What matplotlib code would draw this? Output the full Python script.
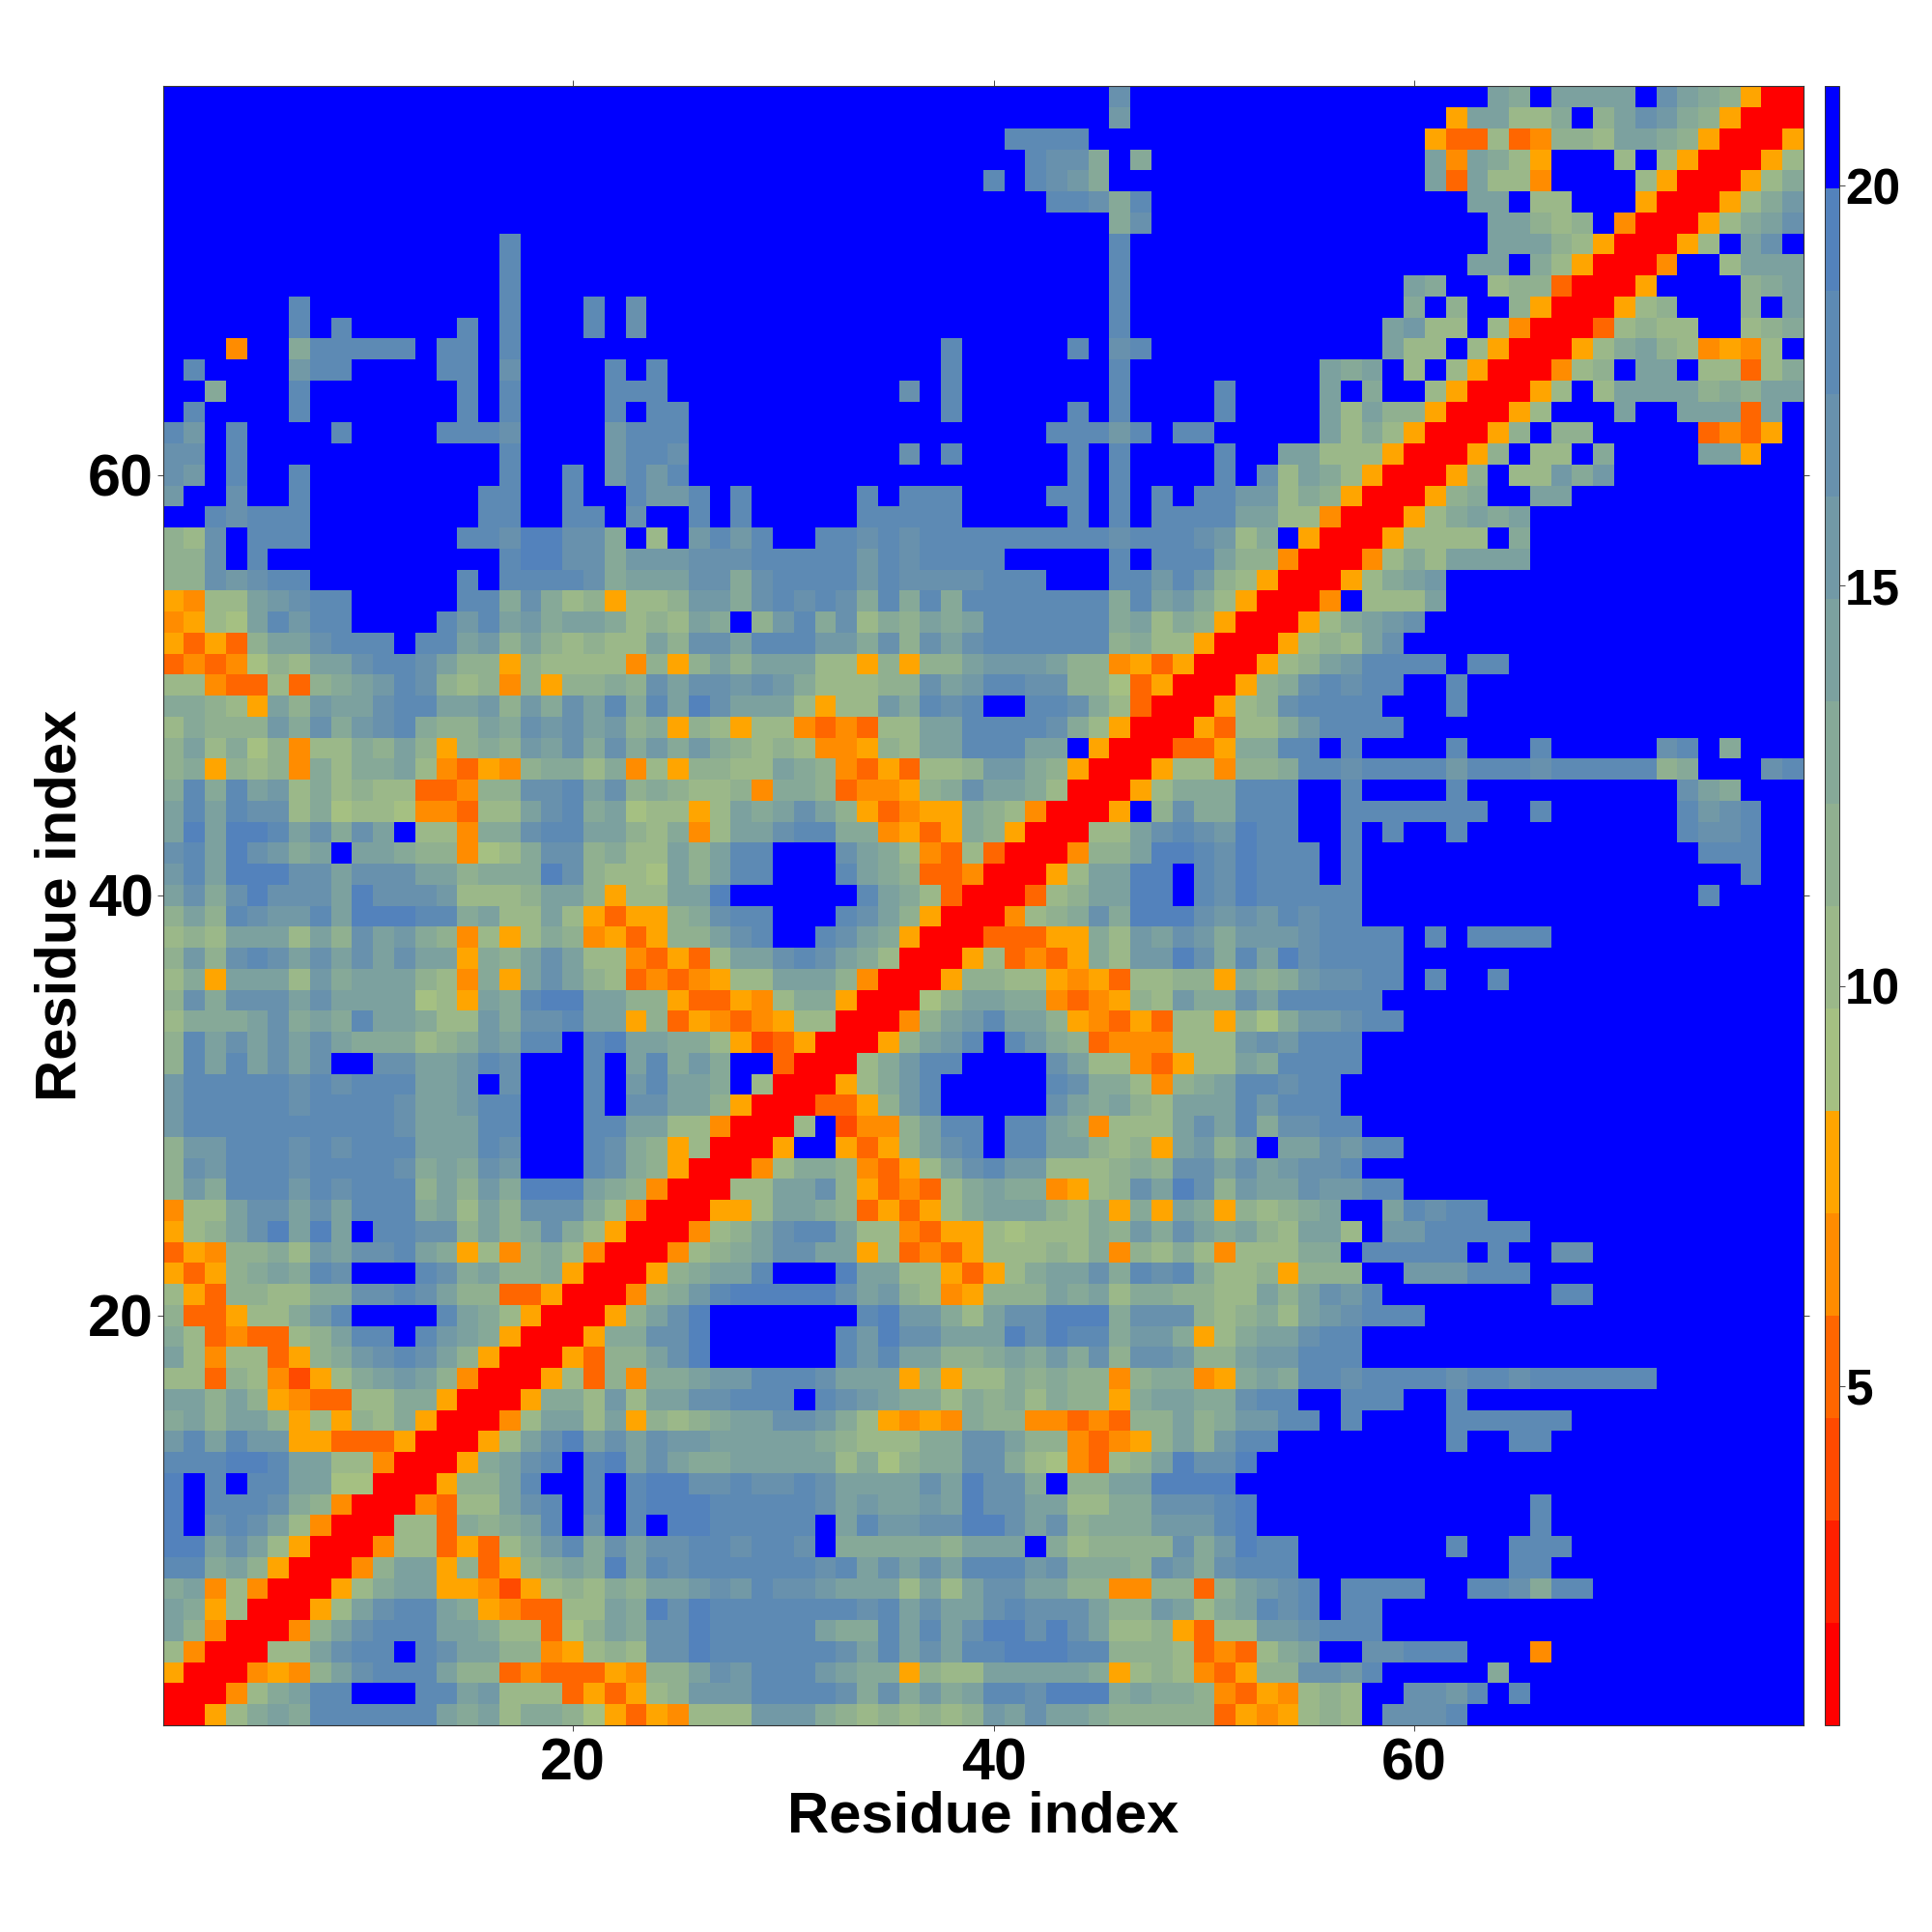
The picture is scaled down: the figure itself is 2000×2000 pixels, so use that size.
import matplotlib
matplotlib.use("Agg")
import matplotlib.pyplot as plt
import numpy as np
from matplotlib.colors import ListedColormap, BoundaryNorm

# Cell classes, rows listed from residue 78 (top) to residue 1 (bottom)
cols_01_26 = [
".."*13,".."*13,".."*13,".."*13,".."*13,".."*13,".."*13,
"................h.........","................h.........","................h.........",
"......h.........h...h.g...",
"......h.h.....h.h...h.g...",
"...M..dhhhhh.hh.h.........",
".h....fhh....hh.g....h.h..",
"..d...h.......h.h....hhh..",
".h....h.......h.h....h.hh.",
"hf.h....h....hhhg....fhhh.",
"gg.h............h....fhhg.",
"gf.h..h.........h..h.fhfh.",
"f..g..h........hh..h..hffh",
"..hghhh........hh..hh.g..h",
"cbg.hhh.......hhgiiggd.b.f",
"ccg.h...........hiiggdfffg",
"ccgfghh.......h.hhhhgdeeeg",
"YMbbefghh.....hhdgdbcYbbcf",
"MYbaehfhh....hfhefdeedbcbe",
"YOYOceeghhh.hhefcecbcbbecg",
"OMOMacbeeghhgeccYcbbbbMcYc",
"bbMOObOcdefhgcbcMcYccdcgeg",
"ddcbYecfeeghheefcfdgehdhei",
"bdcccfdgdfghdccedgfgefcdYc",
"cebdacMbbdcecYcdcfegdgdfdf",
"cdYcbcMdbddebMOYMcddbdMbYc",
"dhdhefbdbcbbOOMccgghegcdcb",
"ehehggbdabbaMMObbeghdeabbY",
"eieiihegdge.bbMddghheecbdM",
"gheigfde.eedccMabdggcdbbec",
"fheiiiggegggeecdddigcbbaec",
"egdgigggeigggfbbbceecYbbee",
"cechgffheiiihhdebbebYOYYcd",
"bcbeeebecgefdcMbYbdcMYOYcc",
"cfcghgegegegeeYdcegebbMOYO",
"bdYeeebfdeeecbMdYegecbOMOM",
"cgdgggegeeeeabYedhiieeccYO",
"bdddegdedheedbbfdggheeYcOY",
"chegegegedddbcdfehh.hieedd",
"chehegeg..ggeefhg...h.ehdf",
"fhhhhhghghhheef.g...h.fhee",
"fhhhhhghhhhgeefhh...h.ggee",
"fhhhhhhhhhhgeeehh...hheebb",
"cffhhhghghhheeehg...hgdcYb",
"cgfhhhghhhhgdedgf...hgdcYR",
"cfdhhhfhghhhcecfdiiiedcMRR",
"MbbeggegehhhdebecgggdbMRRR",
"Ybcegieie.hhggcecdgdbYRRRM",
"OYMccdbfegghedYbMcdbMRRRMb",
"YOYcdedhg...hgdeccdYRRRYcd",
"bYOccbbddgghgeccOOYRRRMcdf",
"cOOYbbdfh....hedbYRRRYcegi",
"dbOMOObcehh.hfedYRRRYddggi",
"ebMbbOYcdfghgecYRRRYOccegi",
"bbOcbMXYbdefecMRRRYbOcMdde",
"eececYMOObbddYRRRYddbfbeeg",
"deceecYbYcbdYRRRMbeebeYcbc",
"fhehffYYOOOYRRRYbegiegegff",
"hhhiiheebbMRRRYdegh.hieged",
"i.h.hheeaaRRRYcceh..h.hiig",
"i.hhhgdcMRRRMObbegh.h.hiii",
"i.ghgebMRRRbbOdcdeh.g.h.ii",
"iiegebYRRRMbbOYObdfhdgeggh",
"hhdecYRRRMceeYcOYcdediehgh",
"deMbMRRRYbdeeYYMXYbcbdceef",
"edYbRRRYbeghhedYMOObbedigi",
"ecMRRRMceghhheedbbOacedggi",
"bMRRRbbeghh.hgeeccMYbcbggi",
"YRRRMYMceghhheccOMOOOYMcce",
"RRRMbdehh...hhefbbbOYOYbcf",
"RRYbdedhhhhhhedebddcaYOYMb",
]
cols_27_52 = [
"...................g......",
"...................f......",
"..............hhhh........",
"...............hggd.d.....",
".............h.hgfd.......",
"................hhgdh.....",
"...................dg.....",
"...................h......","...................h......","...................h......",
"...................h......","...................h......",
"...........h.....h.gh.....",
"...........h.......h......",
".........g.h.......h....h.",
"...........h.....h.h....h.",
"................hhhfh.hh..",
".........g.h.....h.h....h.",
".................h.h....h.",
".h.....h.hhh....hh.h.h.hhf",
".h.....hhhhh.....h.h.hhhhe",
"hfh..hhghghhhhhhhhhghhhgfb",
"gghhhhhfhghhhh.....h.hhhec",
"gdghhhhfhgggghhh...hhfhfcb",
"fdghghgdhdhdhhhhhhhdhefdbY",
"d.cfhdgbdcedehhhhhhdebdcYR",
"gehhhffdgcgeghhhhhhcdbbYRR",
"eceeebbYcYccefffeccMYOYRRR",
"gfgfdbbbccgefhhggccaOYRRRY",
"geeebYbbfdhgh..hhgdbORRRYb",
"bYbbMOMObbeehhhhgdbYRRRYOb",
"dcbcbMMYcbeehhhee.YRRROOYd",
"cbbedcMOYObbcffdcYRRRYbbMc",
"bcMddcOMMYcdgeedbRRRYbdddh",
"bedegecYOMYYdcbMRRRY.cgddh",
"beeghhddMYOYdcYRRRbbeghgfi",
"ehh...gedbMObORRRMcceiihgi",
"ehh...hedcOOMRRRYbeeii.hgi",
"i......hedbORRRObceeii.hgi",
"ghh...hgecYRRRMbcdgdiiigfg",
"egh..hgedYRRROOOYYdbfegfdf",
"beeghgedbRRRYbOMOYdbffigdh",
"YbbeeecMRRRYccbbYMYObbccYd",
"OYMbddYRRRaceeddMOMYcbfddg",
"MOMYbbRRRMcefheecYMOYObbYc",
"bYXOYRRRYcefh.hfdcOMMMbbbf",
"d..ORRRbdfhh....gebbMOYbbe",
"d.bRRRYbdfh.....hgddbMcdeh",
"cYRRROOYcfh.....gedecbeeeh",
"MRRRb.XMMcehh.hhedMbbbegeh",
"RRRY..YOYcegh.hheecbcYefce",
"RRMbddcMOYbeghffbbbcdcggeg",
"RbbeegcYOMObdeddMYbcgeigcf",
"YYbeedcOYOYbdeeecbdYdYedYc",
"bceghhebbMOYYbabbbdcfdgede",
"cdeggeeYbOMOYbbbcbdMcbdbMb",
"eeh...ieebbYOYbdeegdhghdbb",
"hiiiiigefcbMYcccedebddccbb",
".......hiffdbeggiiidgggcbc",
"......hfiggeeeigihhdffdYbd",
"......hfheeccdedfdgcggfcce",
"ffhhhgeeeYcYbbdcdccMcddMYd",
"ghhh.hgfeddbdcdbdccYdeeddg",
"deeggfdbYMYMdccMMOMOccecdf",
"eeeeedcbbbddggeccMOMYcecfh",
"deeeeebdacddggdbaMObceiggi",
"ghgghgeeeegeiggd.cceeiiii.",
"hhhhhgefeefeiggeebbddggghi",
"hhhhh.ehffggiigegcdddfffhi",
"hghhg.dddddceee.dbccccgdfi",
"hhhhhghegegehhhfgdddcgfdgh",
"gfhggfeeebebeggeeccMMccOce",
"hhhhhhhghegeeghgggeccfebde",
"hhhhheddhehegiigigebbcYObb",
"hhhhhhgehegehhiiihhcccbOMO",
"gfhhhfeddYcbbeeeeedYbcbMOY",
"ffhhhhgdgdfdehhgiiideddcMO",
"bbfffdcbcbcbcfegeedcccccOY",
]
cols_53_78 = [
"...........ed.eeee.gedcYRR",
".........Yeebbd.cegfdcYRRR",
"........YOObOMccbeedcYRRRY",
"........eMedbY...b.bYRRRYb",
"........eOebbM....bYRRRYbd",
"..........ee.bb...YRRRYbdf",
"...........eecbc.MRRRYbdeg",
"...........eeecbYRRRYb.eg.",
"..........ee.dbYRRRM..beee",
".......ed..bccORRRY....cde",
".......d.c..cYRRRYbc...c.e",
"......efbb.bMRRRObcbb..bcd",
"......ebb.bYRRRYbdecbMYMb.",
"...ede.b.bYRRRMbc.ee.bbObd",
"...e.d..bYRRRYb.beeeecdcee",
"...ebeccYRRRYb...e..eeeOe.",
"...ebdbYRRRYc.cc.....OMOY.",
".eebbbYRRRYc.bb.d....eeY..",
"gbedbYRRRYc.bbfdf.........",
"fbdcYRRRYcd..ee...........",
"ebbMRRRYbdede.............",
"d.YRRRYbbbb.d.............",
"cMRRRMbdbeeee.............",
"YRRRYbdef.................",
"RRRM.bbbe.................",
"RRYbdefg..................",
"RYbcbeg...................",
"Ybcefhhhh.hh..............",
"cdghghh..h................",
"cghhhh...h................",
"bdfhhhh...................",
"dhh.h....h...h.....gh.d...",
"cdhhghhhhfhhhghhhhhcd...gh",
"hh..h....h..........ged...",
"hh..hhhhhhh..h......hfgh..",
"hh..h.h..h..........hggh..",
"hhh.h................hhh..",
"hhh.h..................h..",
"hhhhh................h....",
"fhghh.....................",
"ffghhhh.h.hhhh............",
"eighhhh...................",
"cdfgghh.h..h..............",
"ehhhhh....................",
"adffghh...................",
"gfhhh.....................",
"dhhhh.....................",
"hghh......................",
"fhhh......................",
"dgghh.....................",
".eegfhh...................",
"efggh.....................",
"eegffhh...................",
"bcde..ehghh...............",
"cbeeb.ffhhhhh.............",
"bbdd.hhhhh.h..gg..........",
"cYccc..fffhhh.............",
"ecegfh........hh..........",
"dbefghhh..................",
"eeghh.....................",
"ffhhh.....................",
"edhhghhhhghhghhhhhh.......",
"hh..hhh..h................",
"fhh.h....hhhhhh...........",
"h........h..hh............",
".."*13,".."*13,
".............h............",".............h............",
"hh.......h..hhh...........",
"hh..........hh............",
"fgh.hhhh..hhgdhh..........",
"hgh.hh....................",
"ffghhh....................",
"bde..gghhh...M............",
"ccggfh.....d..............",
"YMbcb..ggfh.h.............",
"MYbcb.gggh................",
]
level_codes = "RrXOMYabcdefghi."
level_colors = ["#ff0000", "#ff2000", "#ff4a00", "#ff6600", "#ff8c00", "#ffa500",
                "#a5c082", "#9bb889", "#90b090", "#86a998", "#7ca19f",
                "#7299a6", "#6891ad", "#5d8ab4", "#5382bc", "#0000ff"]
value_min, value_max = 0.76, 21.24
cbar_ticks = [5, 10, 15, 20]
axis_ticks = [20, 40, 60]
axis_label = "Residue index"

n = len(cols_01_26)
assert n == len(cols_27_52) == len(cols_53_78) == 78
for i in range(78):
    assert len(cols_01_26[i]) == 26 and len(cols_27_52[i]) == 26 and len(cols_53_78[i]) == 26

edges = np.linspace(value_min, value_max, len(level_colors) + 1)
centers = 0.5 * (edges[:-1] + edges[1:])
matrix = np.array([[centers[level_codes.index(c)] for c in a + b + d]
                   for a, b, d in zip(cols_01_26, cols_27_52, cols_53_78)])[::-1]

cmap = ListedColormap(level_colors)
norm = BoundaryNorm(edges, cmap.N)

plt.rcParams["font.family"] = ["Liberation Sans", "DejaVu Sans"]
plt.rcParams["font.weight"] = "bold"
W = 2000.0
fig = plt.figure(figsize=(20, 20), dpi=100, facecolor="white")
ax = fig.add_axes([168.5 / W, (W - 1786) / W, 1698.5 / W, 1696.6 / W])
idx = np.arange(0.5, 79.5)
mesh = ax.pcolormesh(idx, idx, matrix, cmap=cmap, norm=norm, linewidth=0, rasterized=True)
ax.set_xlim(0.5, 78.5)
ax.set_ylim(0.5, 78.5)
ax.set_xticks(axis_ticks)
ax.set_yticks(axis_ticks)
ax.tick_params(axis="both", direction="out", length=4.5, width=0.7, color="#444444",
               top=True, right=True, labelsize=44)
ax.tick_params(axis="x", pad=4.2)
ax.tick_params(axis="y", pad=2.4)
for s in ax.spines.values():
    s.set_linewidth(0.8)
    s.set_color("#333333")
ax.set_xlabel(axis_label, fontsize=43, fontweight="bold", labelpad=-0.8)
ax.set_ylabel(axis_label, fontsize=43, fontweight="bold", labelpad=0.1)

cax = fig.add_axes([1889 / W, (W - 1786) / W, 14.5 / W, 1696.6 / W])
cb = fig.colorbar(mesh, cax=cax, spacing="proportional", boundaries=edges, drawedges=False)
cb.set_ticks(cbar_ticks)
cb.ax.tick_params(length=4.5, width=0.7, color="#444444", labelsize=37, pad=0.3, which="major")
cb.ax.minorticks_off()
cb.outline.set_linewidth(0.7)
cb.outline.set_edgecolor("#333333")

fig.savefig("out.png", dpi=100, facecolor="white")
